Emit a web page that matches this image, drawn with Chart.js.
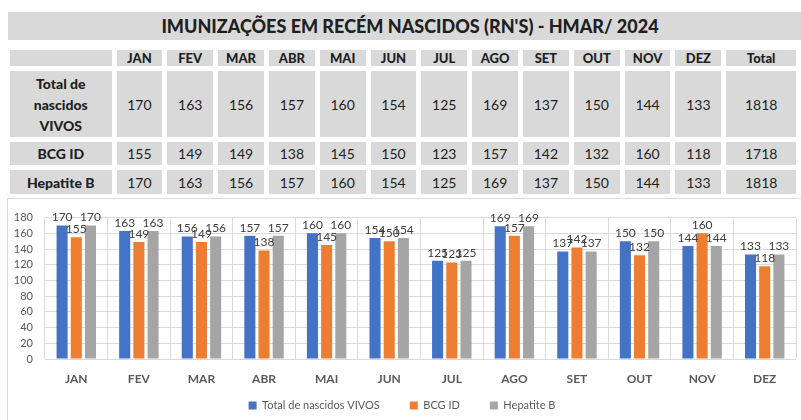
<!DOCTYPE html>
<html lang="pt">
<head>
  <meta charset="UTF-8">
  <title>Imunizações em Recém Nascidos - HMAR 2024</title>
  <script src="https://cdn.jsdelivr.net/npm/chart.js"></script>
  <style>
    * { margin: 0; padding: 0; box-sizing: border-box; }
    body {
      width: 801px; height: 420px; overflow: hidden;
      background: #fff; position: relative;
      font-family: Lato, 'Liberation Sans', sans-serif;
      color: #1f1f1f;
    }
    .titulo {
      position: absolute; left: 8px; top: 12px; width: 800px; height: 28px;
      background: #d9d9d9; text-align: center;
      font-weight: 900; font-size: 18px; line-height: 28px;
      padding-left: 4px;
    }
    table {
      position: absolute; left: 5px; top: 45px;
      border-collapse: separate; border-spacing: 5.5px 5px;
      table-layout: fixed;
    }
    td, th {
      background: #d9d9d9; text-align: center; font-size: 14px;
    }
    th { font-weight: 900; font-size: 13px; height: 16px; line-height: 16px; }
    td.rot { font-weight: 900; font-size: 14px; line-height: 21px; }
    tr.r1 td { height: 66px; }
    tr.r2 td { height: 23px; }
    tr.r3 td { height: 24px; }
    .grafico {
      position: absolute; left: 7px; top: 198px; width: 800px; height: 230px;
      border-left: 1px solid #d9d9d9; border-top: 1px solid #d9d9d9;
    }
    .grafico div { width: 793px; height: 221px; position: relative; }
  </style>
</head>
<body>
  <div class="titulo">IMUNIZAÇÕES EM RECÉM NASCIDOS (RN'S) - HMAR/ 2024</div>
  <table id="tabela"></table>
  <div class="grafico"><div><canvas id="imunChart"></canvas></div></div>

  <script>
    const meses = ['JAN','FEV','MAR','ABR','MAI','JUN','JUL','AGO','SET','OUT','NOV','DEZ'];
    const nascidosVivos = [170,163,156,157,160,154,125,169,137,150,144,133];
    const bcgId         = [155,149,149,138,145,150,123,157,142,132,160,118];
    const hepatiteB     = [170,163,156,157,160,154,125,169,137,150,144,133];
    const totais = [1818, 1718, 1818];
    const yTicks = [0,20,40,60,80,100,120,140,160,180];

    // Monta a tabela
    const linhas = [
      ['Total de<br>nascidos<br>VIVOS', nascidosVivos, totais[0], 'r1'],
      ['BCG ID', bcgId, totais[1], 'r2'],
      ['Hepatite B', hepatiteB, totais[2], 'r3']
    ];
    let html = '<colgroup><col style="width:102px">' +
      meses.map(() => '<col style="width:46px">').join('') +
      '<col style="width:70px"></colgroup>';
    html += '<tr><th></th>' + meses.map(m => `<th>${m}</th>`).join('') + '<th>Total</th></tr>';
    linhas.forEach(([rot, vals, tot, cls]) => {
      html += `<tr class="${cls}"><td class="rot">${rot}</td>` +
        vals.map(v => `<td>${v}</td>`).join('') + `<td>${tot}</td></tr>`;
    });
    document.getElementById('tabela').innerHTML = html;

    // Rótulos de valor acima das barras
    const rotulos = {
      id: 'rotulos',
      afterDatasetsDraw(chart) {
        const c = chart.ctx;
        c.save();
        c.font = '12px Lato';
        c.fillStyle = '#404040';
        c.textAlign = 'center';
        c.textBaseline = 'bottom';
        chart.data.datasets.forEach((ds, i) => {
          chart.getDatasetMeta(i).data.forEach((bar, j) => {
            c.fillText(ds.data[j], bar.x, bar.y - 2);
          });
        });
        c.restore();
      }
    };

    // Legenda mais baixa (padding grande só para o espaço entre itens)
    const SUBIR = 15;
    const legendaCompacta = {
      id: 'legendaCompacta',
      afterInit(chart) {
        const leg = chart.legend;
        const fit0 = leg.fit;
        leg.fit = function () { fit0.call(this); this.height = 35; };
        const draw0 = leg.draw;
        leg.draw = function () {
          this.ctx.save();
          this.ctx.translate(0, -SUBIR);
          this.bottom += SUBIR;
          draw0.call(this);
          this.bottom -= SUBIR;
          this.ctx.restore();
        };
      }
    };

    new Chart(document.getElementById('imunChart'), {
      type: 'bar',
      data: {
        labels: meses,
        datasets: [
          { label: 'Total de nascidos VIVOS', data: nascidosVivos, backgroundColor: '#4472c4' },
          { label: 'BCG ID', data: bcgId, backgroundColor: '#ed7d31' },
          { label: 'Hepatite B', data: hepatiteB, backgroundColor: '#a5a5a5' }
        ]
      },
      options: {
        responsive: true,
        maintainAspectRatio: false,
        animation: false,
        datasets: { bar: { categoryPercentage: 0.68, barPercentage: 0.78 } },
        layout: { padding: { top: 11, right: 5, left: 0, bottom: 0 } },
        scales: {
          x: {
            grid: { color: '#d9d9d9', offset: true, drawTicks: false },
            border: { display: false },
            ticks: { color: '#595959', font: { family: 'Lato', size: 12, weight: 'bold' }, padding: 13 },
            afterFit: s => { s.height = 26; }
          },
          y: {
            min: 0, max: 180,
            grid: { color: '#d9d9d9', drawTicks: false },
            border: { display: false },
            afterBuildTicks: s => { s.ticks = yTicks.map(v => ({ value: v })); },
            ticks: { color: '#595959', font: { family: 'Lato', size: 11 }, padding: 12, autoSkip: false },
            afterFit: s => { s.width = 37; }
          }
        },
        plugins: {
          legend: {
            position: 'bottom',
            labels: {
              color: '#595959', boxWidth: 8, boxHeight: 8, padding: 30,
              font: { family: 'Lato', size: 11 }
            }
          },
          tooltip: { enabled: false }
        }
      },
      plugins: [rotulos, legendaCompacta]
    });
  </script>
</body>
</html>
